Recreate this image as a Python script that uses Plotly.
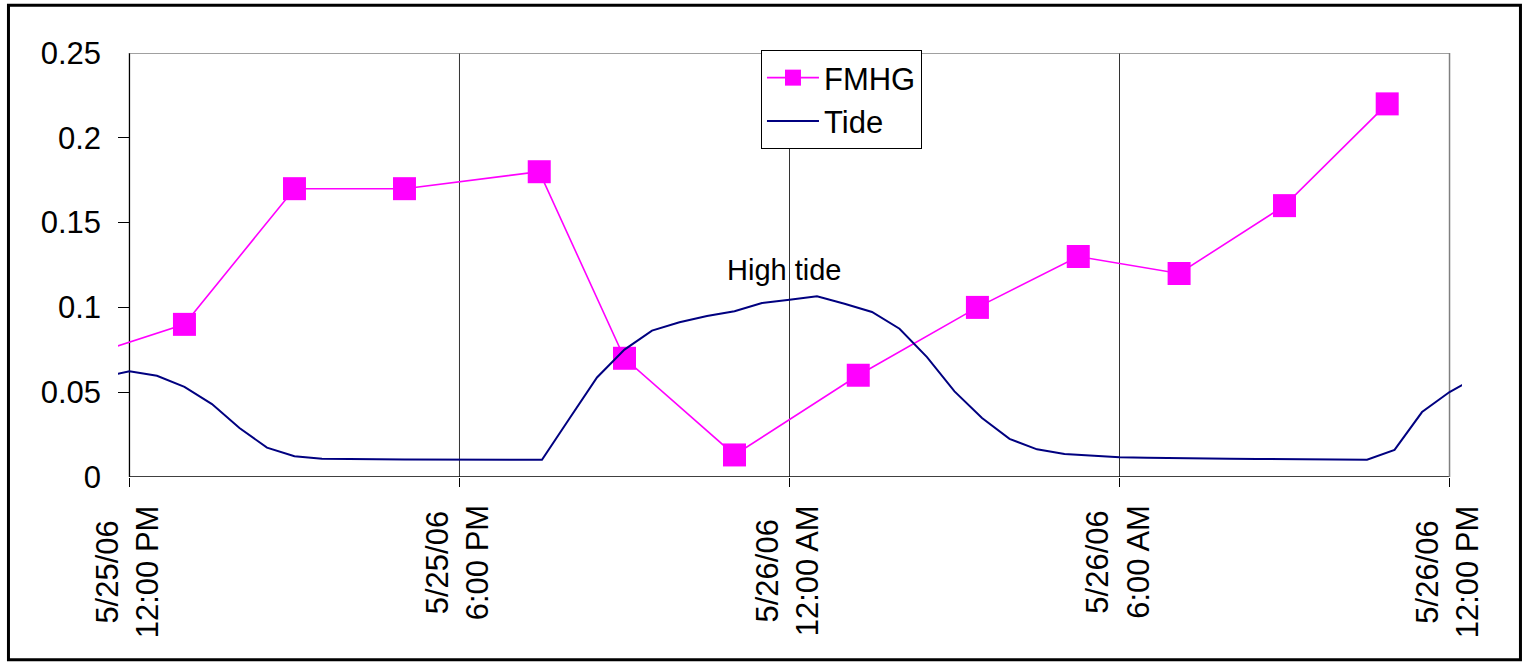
import pandas as pd
import plotly.graph_objects as go

# FMHG samples (time, concentration)
fmhg_time = [
    "2006-05-25 11:00", "2006-05-25 13:00", "2006-05-25 15:00", "2006-05-25 17:00",
    "2006-05-25 19:27", "2006-05-25 21:00", "2006-05-25 23:00", "2006-05-26 01:15",
    "2006-05-26 03:25", "2006-05-26 05:15", "2006-05-26 07:05", "2006-05-26 09:00",
    "2006-05-26 10:52",
]
fmhg_value = [0.069, 0.09, 0.17, 0.17, 0.18, 0.07, 0.013, 0.06, 0.10, 0.13, 0.12, 0.16, 0.22]

# Tide record every 30 minutes, 11:30 AM 5/25 to 12:30 PM 5/26
tide_start = "2006-05-25 11:30"
tide_step = "30min"
tide_value = [
    0.059, 0.0623, 0.0597, 0.0531, 0.0430, 0.0289, 0.0173, 0.0122, 0.0108, 0.0104,
    0.0104, 0.0103, 0.0103, 0.0103, 0.0102, 0.0101, 0.0101, 0.0345, 0.0587, 0.0751,
    0.0863, 0.0912, 0.0949, 0.0977, 0.1026, 0.1045, 0.1065, 0.1022, 0.0973, 0.0874,
    0.0707, 0.0505, 0.0348, 0.0225, 0.0163, 0.0135, 0.0126, 0.0117, 0.0113, 0.0110,
    0.0108, 0.0107, 0.0106, 0.0105, 0.0104, 0.0103, 0.0102, 0.0160, 0.0383, 0.0501,
    0.059,
]
tide_time = pd.date_range(start=tide_start, periods=len(tide_value), freq=tide_step)

# Axis ticks
x_tick_vals = ["2006-05-25 12:00", "2006-05-25 18:00", "2006-05-26 00:00",
               "2006-05-26 06:00", "2006-05-26 12:00"]
x_tick_text = ["5/25/06<br>12:00 PM", "5/25/06<br>6:00 PM", "5/26/06<br>12:00 AM",
               "5/26/06<br>6:00 AM", "5/26/06<br>12:00 PM"]
y_tick_vals = [0, 0.05, 0.1, 0.15, 0.2, 0.25]
y_tick_text = ["0", "0.05", "0.1", "0.15", "0.2", "0.25"]

high_tide_label = "High tide"
high_tide_pos = ("2006-05-25 23:54", 0.122)

FONT = "Liberation Sans, Arial, sans-serif"
FS = 31

t_first = pd.Timestamp(x_tick_vals[0])
t_last = pd.Timestamp(x_tick_vals[-1])
x_range = [t_first - pd.Timedelta(minutes=12.5), t_last + pd.Timedelta(minutes=13.6)]

fig = go.Figure()
fig.add_trace(go.Scatter(
    x=fmhg_time, y=fmhg_value, name="FMHG", mode="lines+markers",
    line=dict(color="#FF00FF", width=1.6),
    marker=dict(symbol="square", size=23, color="#FF00FF"),
    cliponaxis=False,
))
fig.add_trace(go.Scatter(
    x=tide_time, y=tide_value, name="Tide", mode="lines",
    line=dict(color="#000080", width=2),
))

shapes = []
# vertical gridlines at interior ticks
for tv in x_tick_vals[1:-1]:
    shapes.append(dict(type="line", xref="x", yref="y", x0=tv, x1=tv, y0=0, y1=0.25,
                       line=dict(color="#333333", width=1), layer="below"))
# plot-area frame: black axes on left/bottom, gray on top/right
shapes.append(dict(type="line", xref="x", yref="y", x0=x_tick_vals[0], x1=x_tick_vals[0],
                   y0=0, y1=0.25, line=dict(color="black", width=1.3), layer="below"))
shapes.append(dict(type="line", xref="x", yref="y", x0=x_tick_vals[0], x1=x_tick_vals[-1],
                   y0=0, y1=0, line=dict(color="black", width=1.3), layer="below"))
shapes.append(dict(type="line", xref="x", yref="y", x0=x_tick_vals[0], x1=x_tick_vals[-1],
                   y0=0.25, y1=0.25, line=dict(color="#808080", width=1.5), layer="below"))
shapes.append(dict(type="line", xref="x", yref="y", x0=x_tick_vals[-1], x1=x_tick_vals[-1],
                   y0=0, y1=0.25, line=dict(color="#808080", width=1.5), layer="below"))
# outer chart border
shapes.append(dict(type="rect", xref="paper", yref="paper",
                   x0=-0.0815, x1=1.0435, y0=-0.431, y1=1.1125,
                   line=dict(color="black", width=3), fillcolor="rgba(0,0,0,0)"))

annotations = [dict(
    x=high_tide_pos[0], y=high_tide_pos[1], xref="x", yref="y", text=high_tide_label,
    showarrow=False, font=dict(family=FONT, size=29, color="black"),
    xanchor="center", yanchor="middle",
)]
for tv, tt in zip(x_tick_vals, x_tick_text):
    annotations.append(dict(
        x=tv, y=-0.062, xref="x", yref="paper", text=tt, textangle=-90,
        showarrow=False, align="center", xanchor="center", yanchor="top", xshift=-2,
        font=dict(family=FONT, size=FS, color="black"),
    ))

fig.update_layout(
    width=1528, height=665,
    margin=dict(l=118, r=66, t=53, b=188, pad=0),
    paper_bgcolor="white", plot_bgcolor="white",
    font=dict(family=FONT, size=FS, color="black"),
    showlegend=True,
    legend=dict(
        x=0.4784, y=1.0071, xanchor="left", yanchor="top",
        bgcolor="white", bordercolor="black", borderwidth=1,
        font=dict(family=FONT, size=FS, color="black"),
        itemwidth=52, tracegroupgap=0,
    ),
    xaxis=dict(
        type="date", range=x_range, tickvals=x_tick_vals, showticklabels=False,
        ticks="outside", ticklen=9, tickwidth=1, tickcolor="black",
        showgrid=False, zeroline=False, showline=False,
    ),
    yaxis=dict(
        range=[0, 0.25], tickvals=y_tick_vals, ticktext=y_tick_text,
        ticks="inside", ticklen=12, tickwidth=1, tickcolor="black",
        ticklabelstandoff=16,
        showgrid=False, zeroline=False, showline=False,
        tickfont=dict(family=FONT, size=FS, color="black"),
    ),
    shapes=shapes,
    annotations=annotations,
)

fig.write_html("out.html")
